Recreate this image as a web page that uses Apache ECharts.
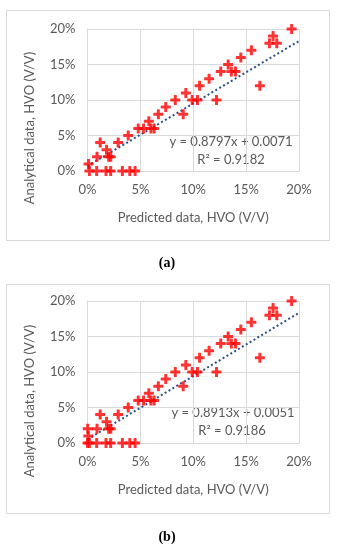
<!DOCTYPE html>
<html>
<head>
<meta charset="utf-8">
<script src="https://cdn.jsdelivr.net/npm/echarts@6/dist/echarts.min.js"></script>
<style>
html,body{margin:0;padding:0;background:#fff;}
#c{width:338px;height:550px;}
</style>
</head>
<body>
<div id="c"></div>
<script>
// Chart (a): predicted vs analytical (percent V/V)
var predictedA = [0.1,0.18,0.87,0.9,1.2,1.75,1.8,2.0,2.2,2.19,2.9,3.3,3.85,4.0,4.5,4.8,5.3,5.8,6.0,6.3,6.7,7.4,8.3,9.05,9.3,9.9,10.4,10.6,11.5,12.2,12.6,13.3,13.6,14.0,14.5,15.5,16.3,17.2,17.55,17.9,19.3];
var analyticalA = [1,0,0,2,4,0,3,2,2,0,4,0,5,0,0,6,6,7,6,6,8,9,10,8,11,10,10,12,13,10,14,15,14,14,16,17,12,18,19,18,20];
// Chart (b)
var predictedB = [0.02,0.0,0.08,0.18,0.87,0.9,1.2,1.75,1.8,2.0,2.2,2.19,2.9,3.3,3.85,4.0,4.5,4.8,5.3,5.8,6.0,6.3,6.7,7.4,8.3,9.05,9.3,9.9,10.4,10.6,11.5,12.2,12.6,13.3,13.6,14.0,14.5,15.5,16.3,17.2,17.55,17.9,19.3];
var analyticalB = [2,0,1,0,0,2,4,0,3,2,2,0,4,0,5,0,0,6,6,7,6,6,8,9,10,8,11,10,10,12,13,10,14,15,14,14,16,17,12,18,19,18,20];
// Trendlines (fraction units, as printed)
var trendA = {slope: 0.8797, intercept: 0.0071, r2: '0.9182'};
var trendB = {slope: 0.8913, intercept: 0.0051, r2: '0.9186'};
var tickValues = [0, 5, 10, 15, 20];
var xTitle = 'Predicted data, HVO (V/V)';
var yTitle = 'Analytical data, HVO (V/V)';

function pairs(xs, ys){ return xs.map(function(x,i){ return [x, ys[i]]; }); }
function trendPts(t){ return [[0, t.intercept*100], [20, (t.slope*0.2 + t.intercept)*100]]; }
function fmtEq(t){ return 'y = ' + t.slope.toFixed(4) + 'x + ' + t.intercept.toFixed(4); }

var FONT = 'Lato';
var GRAY = '#595959';
var GRID = '#d9d9d9';
var plus = 'path://M3.5,0.5Q3.5,0 4,0H6Q6.5,0 6.5,0.5V3.5H9.5Q10,3.5 10,4V6Q10,6.5 9.5,6.5H6.5V9.5Q6.5,10 6,10H4Q3.5,10 3.5,9.5V6.5H0.5Q0,6.5 0,6V4Q0,3.5 0.5,3.5H3.5Z';

function xAxisCfg(idx){
  return {gridIndex: idx, type:'value', min:0, max:20, interval:5,
    axisLine:{show:true, lineStyle:{color:GRID}}, axisTick:{show:false},
    splitLine:{show:true, lineStyle:{color:GRID, width:1}},
    axisLabel:{formatter:'{value}%', color:GRAY, fontFamily:FONT, fontSize:13, margin:12},
    name: xTitle, nameLocation:'middle', nameGap:40,
    nameTextStyle:{color:GRAY, fontFamily:FONT, fontSize:13}};
}
function yAxisCfg(idx){
  return {gridIndex: idx, type:'value', min:0, max:20, interval:5,
    axisLine:{show:true, lineStyle:{color:GRID}}, axisTick:{show:false},
    splitLine:{show:true, lineStyle:{color:GRID, width:1}},
    axisLabel:{formatter:'{value}%', color:GRAY, fontFamily:FONT, fontSize:13, margin:12}};
}
function scatter(idx, xs, ys){
  return {type:'scatter', xAxisIndex:idx, yAxisIndex:idx, data:pairs(xs, ys),
    symbol:plus, symbolSize:10, itemStyle:{color:'#ff0000'}, z:3, silent:true};
}
function trend(idx, t){
  return {type:'line', xAxisIndex:idx, yAxisIndex:idx, data:trendPts(t), symbol:'none',
    lineStyle:{color:'#2f4f8a', width:2, type:[2,2.5]}, z:2, silent:true};
}

var chart = echarts.init(document.getElementById('c'), null, {renderer:'canvas'});
chart.setOption({
  animation:false,
  backgroundColor:'#fff',
  grid:[
    {left:87.5, top:29, width:211.5, height:142},
    {left:87.5, top:301, width:211.5, height:142}
  ],
  xAxis:[xAxisCfg(0), xAxisCfg(1)],
  yAxis:[yAxisCfg(0), yAxisCfg(1)],
  series:[
    trend(0, trendA), scatter(0, predictedA, analyticalA),
    trend(1, trendB), scatter(1, predictedB, analyticalB)
  ],
  graphic:[
    {type:'rect', shape:{x:6.5, y:10.5, width:323, height:230}, style:{fill:'none', stroke:GRID, lineWidth:1}, z:-10},
    {type:'rect', shape:{x:6.5, y:284.5, width:323, height:229}, style:{fill:'none', stroke:GRID, lineWidth:1}, z:-10},
    {type:'text', x:30, y:128, rotation:Math.PI/2, style:{text:yTitle, fill:GRAY, font:'13px Lato', align:'center', verticalAlign:'middle'}},
    {type:'text', x:30, y:401, rotation:Math.PI/2, style:{text:yTitle, fill:GRAY, font:'13px Lato', align:'center', verticalAlign:'middle'}},
    {type:'text', x:231, y:142, style:{text:fmtEq(trendA), fill:GRAY, font:'13px Lato', align:'center', verticalAlign:'middle'}},
    {type:'text', x:231, y:160, style:{text:'R² = ' + trendA.r2, fill:GRAY, font:'13px Lato', align:'center', verticalAlign:'middle'}},
    {type:'text', x:233, y:413, style:{text:fmtEq(trendB), fill:GRAY, font:'13px Lato', align:'center', verticalAlign:'middle'}},
    {type:'text', x:232, y:431, style:{text:'R² = ' + trendB.r2, fill:GRAY, font:'13px Lato', align:'center', verticalAlign:'middle'}},
    {type:'text', x:167, y:263, style:{text:'(a)', fill:'#000', font:'bold 14px "Liberation Serif"', align:'center', verticalAlign:'middle'}},
    {type:'text', x:167, y:537, style:{text:'(b)', fill:'#000', font:'bold 14px "Liberation Serif"', align:'center', verticalAlign:'middle'}}
  ]
});
</script>
</body>
</html>
